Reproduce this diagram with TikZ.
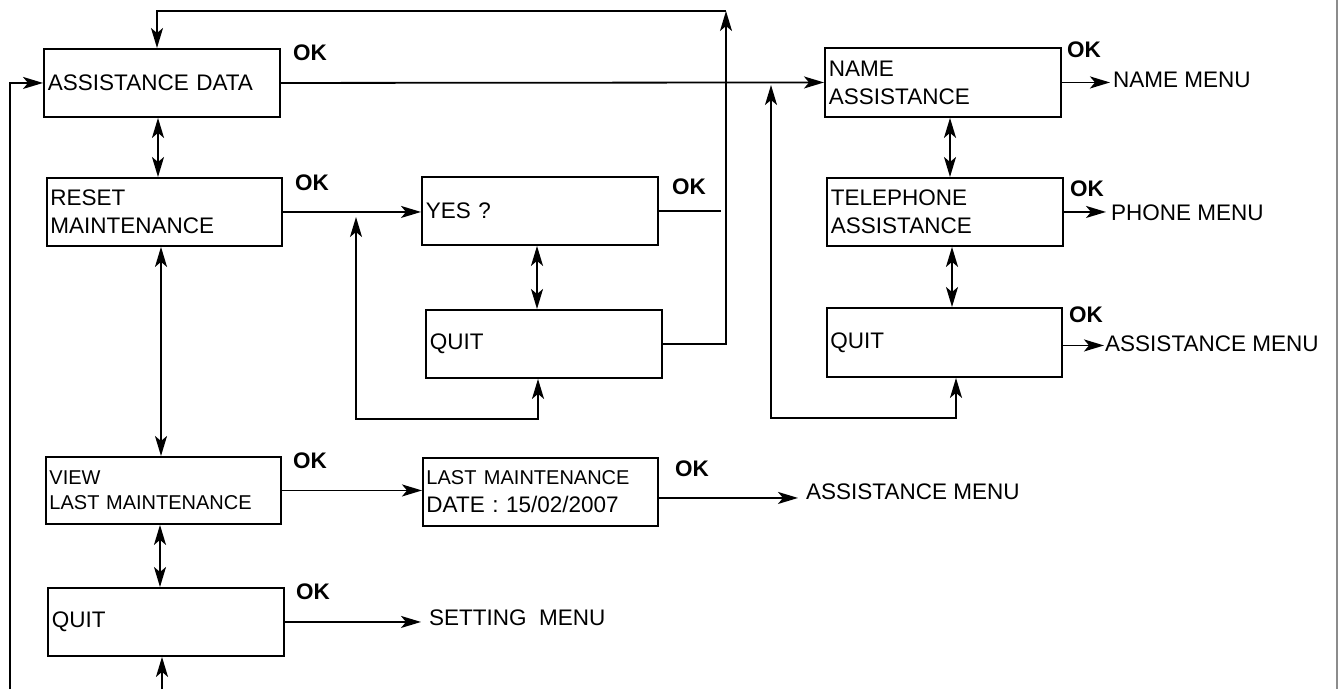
\documentclass[tikz,border=0pt]{standalone}
\usepackage{fontspec}
\setmainfont{Liberation Sans}
\usetikzlibrary{arrows.meta,calc}
\begin{document}
\begin{tikzpicture}[x=1pt,y=-1pt,
  bx/.style 2 args={draw,line width=1.9pt,rectangle,anchor=north west,inner xsep=3.5pt,inner ysep=0pt,
    align=left,text width=228pt,minimum width=#1,minimum height=#2,font=\fontsize{22.5}{28}\selectfont},
  ok/.style={anchor=base west,inner sep=0pt,font=\fontsize{22.5}{27}\selectfont\bfseries},
  lbl/.style={anchor=base west,inner ysep=0pt,inner xsep=#1,font=\fontsize{22.5}{27}\selectfont},
  conn/.style={line width=1.8pt},
  tip/.style={Stealth[length=20pt,width=12pt,inset=5pt]},
  arr/.style={conn,-{Stealth[length=20pt,width=12pt,inset=5pt]}},
  darr/.style={conn,{Stealth[length=20pt,width=12pt,inset=5pt]}-{Stealth[length=20pt,width=12pt,inset=5pt]}}]
\useasboundingbox (0,0) rectangle (1340,689);

% boxes
\node[bx={236pt}{68pt}] (ad) at (43,48) {ASSISTANCE DATA};
\node[bx={235pt}{68pt}] (reset) at (46,177) {RESET\\MAINTENANCE};
\node[bx={236pt}{68pt}] (yes) at (421,176) {YES ?};
\node[bx={236pt}{68pt}] (quitm) at (425,309) {QUIT};
\node[bx={236pt}{69pt}] (name) at (824,47) {NAME\\ASSISTANCE};
\node[bx={236pt}{68pt}] (tel) at (826,177) {TELEPHONE\\ASSISTANCE};
\node[bx={235pt}{69pt}] (quitr) at (826,307) {QUIT};
\node[bx={235pt}{67pt},font=\fontsize{20}{25}\selectfont] (view) at (45,456) {VIEW\\LAST MAINTENANCE};
\node[bx={235pt}{68pt}] (last) at (422,457) {{\fontsize{20}{25}\selectfont LAST MAINTENANCE}\\DATE : 15/02/2007};
\node[bx={236pt}{68pt}] (quitb) at (47,587) {QUIT};

% OK labels
\node[ok] (ok1) at (293,60) {OK};
\node[ok] (ok2) at (295,190) {OK};
\node[ok] (ok3) at (672,194) {OK};
\node[ok] (ok4) at (1067,57) {OK};
\node[ok] (ok5) at (1070,196) {OK};
\node[ok] (ok6) at (1069,322) {OK};
\node[ok] (ok7) at (293,468) {OK};
\node[ok] (ok8) at (675,476) {OK};
\node[ok] (ok9) at (296,599) {OK};

% menu labels
\node[lbl=3pt] (namemenu) at (1110,87) {NAME MENU};
\node[lbl=5pt] (phonemenu) at (1106,220) {PHONE MENU};
\node[lbl=1pt] (amenu1) at (1104,351) {ASSISTANCE MENU};
\node[lbl=8pt] (amenu2) at (798,499) {ASSISTANCE MENU};
\node[lbl=8pt] (setmenu) at (421,625) {SETTING\ \ MENU};

% helper coordinates
\coordinate (c1) at (158,0);
\coordinate (c2) at (161,0);
\coordinate (c3) at (160,0);
\coordinate (c4) at (537,0);
\coordinate (c5) at (950,0);
\coordinate (c6) at (952,0);
\coordinate (c7) at (538,0);
\coordinate (c8) at (956,0);
\coordinate (c9) at (157,0);
\coordinate (lb) at (10,689);
\coordinate (bb) at (162,689);
\coordinate (m0) at (356,217);
\coordinate (m1) at (356,419);
\coordinate (r0) at (771,85);
\coordinate (r1) at (771,418);
\coordinate (t1) at (726,11);
\coordinate (ys) at (721,0);
\coordinate (ls) at ([yshift=-6pt]last.east);
\coordinate (qs) at ([yshift=-3pt]quitr.east);

% vertical double arrows
\draw[darr] (c1 |- ad.south) -- (c1 |- reset.north);
\draw[darr] (c2 |- reset.south) -- (c2 |- view.north);
\draw[darr] (c3 |- view.south) -- (c3 |- quitb.north);
\draw[darr] (c4 |- yes.south) -- (c4 |- quitm.north);
\draw[darr] (c5 |- name.south) -- (c5 |- tel.north);
\draw[darr] (c6 |- tel.south) -- (c6 |- quitr.north);

% horizontal connectors
\draw[arr] (ad.east) -- (name.west);
\draw[arr] (reset.east) -- (reset.east -| yes.west);
\draw[conn] (yes.east) -- (yes.east -| ys);
\draw[arr] (view.east) -- (view.east -| last.west);
\draw[arr] (ls) -- (ls -| amenu2.west);
\draw[arr] (quitb.east) -- (quitb.east -| setmenu.west);
\draw[arr] (name.east) -- (name.east -| namemenu.west);
\draw[arr] (tel.east) -- (tel.east -| phonemenu.west);
\draw[arr] (qs) -- (qs -| amenu1.west);

% loops
\draw[arr] (lb) |- (ad.west);
\draw[arr] (bb) -- (bb |- quitb.south);
\draw[darr] (m0) -- (m1) -| (c7 |- quitm.south);
\draw[darr] (r0) -- (r1) -| (c8 |- quitr.south);
\draw[arr] (quitm.east) -| (t1);
\draw[arr] (t1) -- (c9 |- t1) -- (c9 |- ad.north);

% page edge
\draw[black!45,line width=1.5pt] (1337,0) -- (1337,689);
\end{tikzpicture}
\end{document}
